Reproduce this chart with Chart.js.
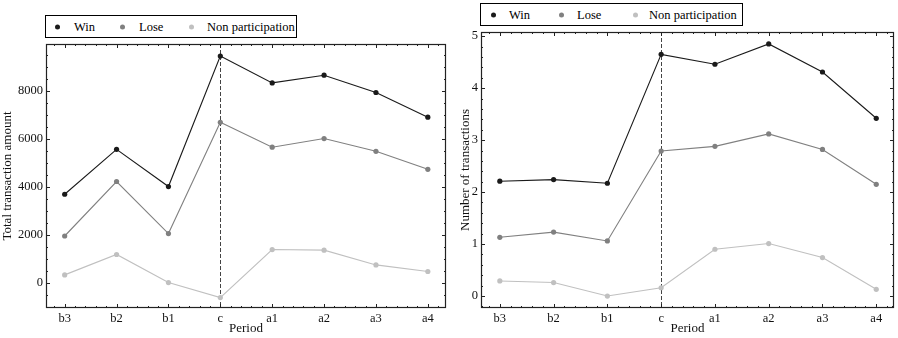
<!DOCTYPE html>
<html>
<head>
<meta charset="utf-8">
<script src="https://cdn.jsdelivr.net/npm/chart.js@4"></script>
<style>
  body { margin: 0; background: #fff; font-family: "Liberation Serif", serif; }
  #wrap { position: relative; width: 898px; height: 338px; }
  .box { position: absolute; }
  .legend { position: absolute; border: 1px solid #000; box-sizing: border-box; background: #fff; font-size: 12.5px; color: #000; }
  .legend span { position: absolute; top: 50%; transform: translateY(-50%); white-space: nowrap; }
  .legend .dot { width: 5px; height: 5px; border-radius: 50%; }
</style>
</head>
<body>
<div id="wrap">
  <div class="box" style="left:0;top:0;width:450px;height:338px"><canvas id="amountChart" width="450" height="338"></canvas></div>
  <div class="box" style="left:450px;top:0;width:448px;height:338px"><canvas id="countChart" width="448" height="338"></canvas></div>

  <div class="legend" style="left:45px;top:15px;width:252px;height:23px">
    <span class="dot" style="left:9px;background:#1a1a1a"></span><span style="left:28px">Win</span>
    <span class="dot" style="left:74px;background:#808080"></span><span style="left:93px">Lose</span>
    <span class="dot" style="left:143px;background:#c0c0c0"></span><span style="left:161px">Non participation</span>
  </div>
  <div class="legend" style="left:480px;top:3px;width:263px;height:23px">
    <span class="dot" style="left:10px;background:#1a1a1a"></span><span style="left:28px">Win</span>
    <span class="dot" style="left:78px;background:#808080"></span><span style="left:96px">Lose</span>
    <span class="dot" style="left:152px;background:#c0c0c0"></span><span style="left:168px">Non participation</span>
  </div>
</div>

<script>
const periods = ["b3", "b2", "b1", "c", "a1", "a2", "a3", "a4"];
const seriesNames = ["Win", "Lose", "Non participation"];

const amountWin = [3680, 5550, 4000, 9440, 8320, 8640, 7920, 6890];
const amountLose = [1940, 4210, 2040, 6680, 5640, 6000, 5470, 4720];
const amountNon = [320, 1170, 0, -625, 1375, 1350, 735, 460];
const amountTicks = [0, 2000, 4000, 6000, 8000];

const countWin = [2.21, 2.24, 2.17, 4.65, 4.46, 4.85, 4.31, 3.42];
const countLose = [1.13, 1.23, 1.06, 2.79, 2.88, 3.12, 2.82, 2.15];
const countNon = [0.29, 0.26, 0.0, 0.16, 0.90, 1.01, 0.74, 0.13];
const countTicks = [0, 1, 2, 3, 4, 5];

const colors = ["#1a1a1a", "#808080", "#c0c0c0"];
const FONT = "'Liberation Serif', 'Times New Roman', serif";

// frame with inward major and minor ticks on all four sides
const frameTicks = {
  id: "frameTicks",
  afterDraw(chart, args, opts) {
    const { ctx, chartArea: a, scales } = chart;
    const x = scales.x, y = scales.y;
    ctx.save();
    ctx.strokeStyle = "#222";
    ctx.lineWidth = 1;
    ctx.beginPath();
    for (let v = Math.ceil(x.min / opts.xMinor) * opts.xMinor; v <= x.max; v += opts.xMinor) {
      const p = Math.round(x.getPixelForValue(v)) + 0.5;
      const major = Math.abs(v - Math.round(v)) < 1e-6;
      const len = major ? 4 : 2;
      ctx.moveTo(p, a.bottom); ctx.lineTo(p, a.bottom - len);
      ctx.moveTo(p, a.top); ctx.lineTo(p, a.top + len);
    }
    for (let v = Math.ceil(y.min / opts.yMinor) * opts.yMinor; v <= y.max; v += opts.yMinor) {
      const p = Math.round(y.getPixelForValue(v)) + 0.5;
      const r = v / opts.yMajor;
      const major = Math.abs(r - Math.round(r)) < 1e-6;
      const len = major ? 4 : 2;
      ctx.moveTo(a.left, p); ctx.lineTo(a.left + len, p);
      ctx.moveTo(a.right, p); ctx.lineTo(a.right - len, p);
    }
    ctx.stroke();
    ctx.lineWidth = 1.2;
    ctx.strokeRect(a.left + 0.5, a.top + 0.5, a.width - 1, a.height - 1);
    ctx.restore();
  },
  beforeDatasetsDraw(chart) {
    const { ctx, chartArea: a, scales } = chart;
    const p = Math.round(scales.x.getPixelForValue(periods.indexOf("c"))) + 0.5;
    ctx.save();
    ctx.strokeStyle = "#444";
    ctx.lineWidth = 1;
    ctx.setLineDash([4, 2]);
    ctx.beginPath();
    ctx.moveTo(p, a.top);
    ctx.lineTo(p, a.bottom);
    ctx.stroke();
    ctx.restore();
  }
};

function makeDatasets(lists) {
  return lists.map((vals, i) => ({
    label: seriesNames[i],
    data: vals.map((v, j) => ({ x: j, y: v })),
    borderColor: colors[i],
    backgroundColor: colors[i],
    pointBackgroundColor: colors[i],
    pointBorderWidth: 0,
    pointRadius: 2.6,
    borderWidth: 1.1,
    tension: 0
  }));
}

function drawChart(id, lists, opt) {
  const ctx = document.getElementById(id).getContext("2d");
  return new Chart(ctx, {
    type: "line",
    data: { datasets: makeDatasets(lists) },
    options: {
      responsive: false,
      animation: false,
      layout: { padding: { top: opt.top, right: opt.right, left: 0, bottom: 0 } },
      plugins: {
        legend: { display: false },
        tooltip: { enabled: false },
        frameTicks: { xMinor: 0.2, yMinor: opt.yMinor, yMajor: opt.yMajor }
      },
      scales: {
        x: {
          type: "linear",
          min: opt.xMin,
          max: opt.xMax,
          grid: { display: false, drawTicks: false },
          border: { display: false },
          afterBuildTicks: (s) => { s.ticks = periods.map((p, i) => ({ value: i })); },
          afterFit: (s) => { s.height = 30; },
          ticks: {
            color: "#111",
            padding: 3,
            maxRotation: 0,
            font: { family: FONT, size: 12.5 },
            callback: (v) => periods[v]
          },
          title: {
            display: true,
            text: "Period",
            color: "#111",
            font: { family: FONT, size: 13 },
            padding: { top: 0, bottom: 2 }
          }
        },
        y: {
          min: opt.yMin,
          max: opt.yMax,
          grid: { display: false, drawTicks: false },
          border: { display: false },
          afterBuildTicks: (s) => { s.ticks = opt.ticks.map((v) => ({ value: v })); },
          afterFit: (s) => { s.width = opt.yWidth; },
          ticks: {
            color: "#111",
            padding: 3,
            font: { family: FONT, size: 12.5 },
            callback: (v) => String(v)
          },
          title: {
            display: true,
            text: opt.yTitle,
            color: "#111",
            font: { family: FONT, size: 13 },
            padding: { top: opt.titlePad, bottom: 0 }
          }
        }
      }
    },
    plugins: [frameTicks]
  });
}

drawChart("amountChart", [amountWin, amountLose, amountNon], {
  top: 44, right: 3, yWidth: 46, titlePad: 0,
  xMin: -0.36, xMax: 7.35,
  yMin: -1060, yMax: 9940, yMinor: 500, yMajor: 2000,
  ticks: amountTicks,
  yTitle: "Total transaction amount"
});

drawChart("countChart", [countWin, countLose, countNon], {
  top: 32, right: 0, yWidth: 31, titlePad: 8,
  xMin: -0.35, xMax: 7.33,
  yMin: -0.23, yMax: 5.08, yMinor: 0.2, yMajor: 1,
  ticks: countTicks,
  yTitle: "Number of transactions"
});
</script>
</body>
</html>
